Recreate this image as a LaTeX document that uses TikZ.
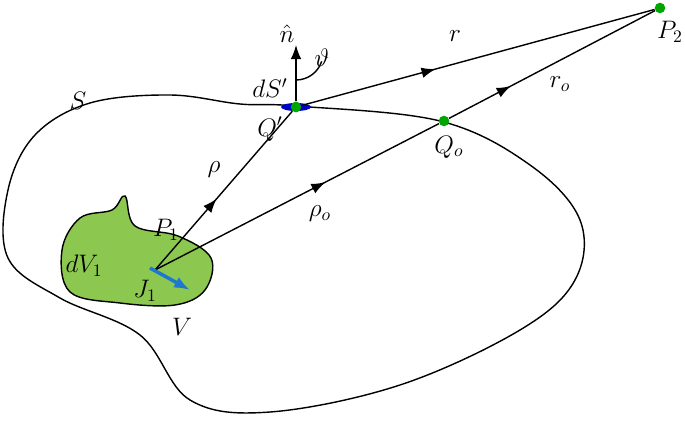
\documentclass[tikz,border=0pt]{standalone}
\usepackage{amsmath}
\usetikzlibrary{decorations.markings}
\usetikzlibrary{arrows.meta}
\tikzset{pt/.style={circle,fill=green!65!black,inner sep=0pt,minimum size=6pt}}
\tikzset{lbl/.style={inner sep=1pt,font=\Large}}
\tikzset{ray/.style={thick,decoration={markings,mark=at position #1 with {\arrow{Latex[length=8pt]}}},postaction={decorate}}}
\definecolor{vol}{RGB}{140,200,80}
\definecolor{jcol}{RGB}{30,120,210}
\begin{document}
\begin{tikzpicture}[x=0.2mm,y=-0.2mm]
\useasboundingbox (0,0) rectangle (685,434);
% surface S
\draw[thick] plot[smooth cycle,tension=0.6] coordinates {(296,106) (440,121) (530,165) (580,220) (575,280) (520,330) (400,385) (270,412) (190,400) (140,335) (60,298) (8,258) (8,190) (35,135) (90,103) (170,95) (240,104)};
% volume V
\draw[thick,fill=vol] plot[smooth cycle,tension=0.6] coordinates {(62,250) (80,218) (112,210) (125,196) (135,226) (178,236) (211,258) (205,290) (175,305) (120,303) (70,292)};
\coordinate (P1) at (155,270);
\node[pt] (Q) at (296,107) {};
\node[pt] (Qo) at (444,121) {};
\node[pt] (P2) at (660,8) {};
\fill[blue!80!black] (Q) ellipse[x radius=15,y radius=4];
\node[pt] at (Q) {};
% normal and angle
\coordinate (N) at (296,45);
\draw[thick,-{Latex[length=8pt]}] (Q) -- (N);
\draw[thick] (296,80) arc[start angle=90,end angle=18,radius=27];
% rays
\draw[ray=0.45] (P1) -- (Q);
\draw[ray=0.6] (P1) -- (Qo);
\draw[ray=0.38] (Q) -- (P2);
\draw[ray=0.3] (Qo) -- (P2);
\draw[line width=2pt,jcol,-{Latex[length=9pt]}] (150,268) -- (190,290);
% labels
\node[lbl] at (287,34) {$\hat{n}$};
\node[lbl] at (322,58) {$\vartheta$};
\node[lbl] at (270,88) {$dS'$};
\node[lbl] at (270,129) {$Q'$};
\node[lbl] at (78,101) {$S$};
\node[lbl] at (455,36) {$r$};
\node[lbl] at (560,84) {$r_o$};
\node[lbl] at (670,32) {$P_2$};
\node[lbl] at (449,147) {$Q_o$};
\node[lbl] at (214,170) {$\rho$};
\node[lbl] at (320,214) {$\rho_o$};
\node[lbl] at (166,230) {$P_1$};
\node[lbl] at (84,266) {$dV_1$};
\node[lbl] at (145,291) {$J_1$};
\node[lbl] at (182,327) {$V$};
\end{tikzpicture}
\end{document}
